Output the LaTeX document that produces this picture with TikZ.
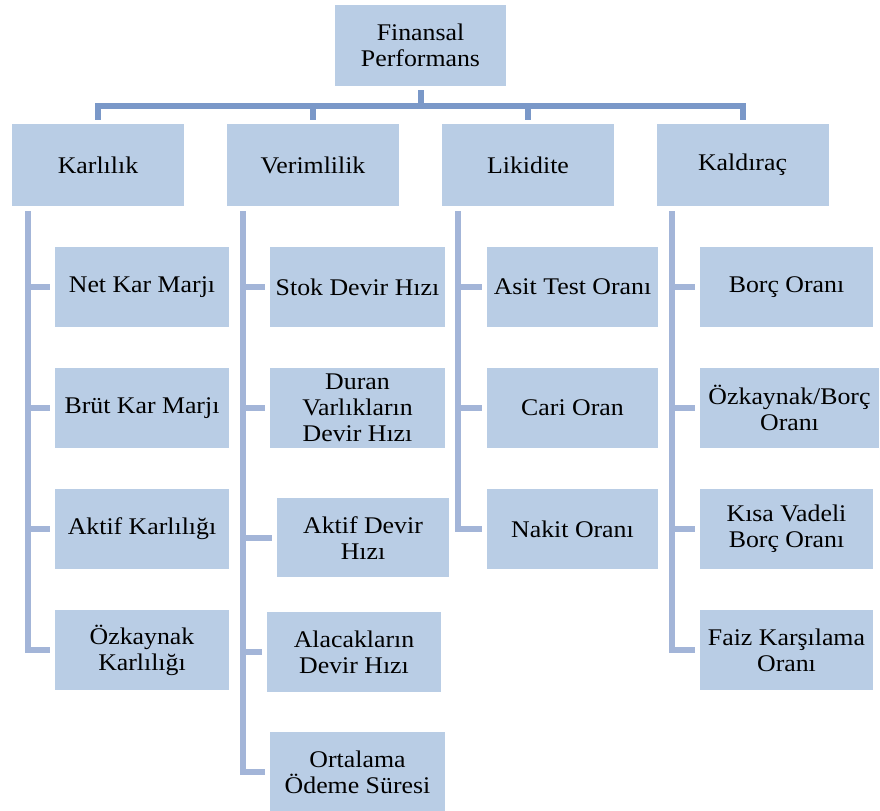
\documentclass[tikz,border=0pt]{standalone}
\usepackage{fontspec}
\setmainfont{Liberation Serif}[FakeStretch=1.08]
\usepackage{tikz}

\definecolor{boxblue}{RGB}{185,205,229}
\definecolor{topblue}{RGB}{122,152,200}
\definecolor{sideblue}{RGB}{163,181,216}

\begin{document}
\begin{tikzpicture}[x=1bp, y=1bp,
	box/.style={fill=boxblue, minimum width=172bp, minimum height=80bp, inner sep=2bp, align=center, font=\fontsize{24}{26}\selectfont},
	topline/.style={line width=6bp, topblue},
	sideline/.style={line width=6bp, sideblue}]
				\useasboundingbox (0,0) rectangle (880,811);
				
				\node[box, minimum width=171bp, minimum height=81bp] (fin) at (420.5,765.5) {Finansal\\Performans};
				
				\node[box, minimum height=82bp] (kar) at (98,646) {Karlılık};
				\node[box, minimum height=82bp] (ver) at (313,646) {Verimlilik};
				\node[box, minimum height=82bp] (lik) at (528,646) {Likidite};
				\node[box, minimum height=82bp] (kal) at (742.5,646) {Kaldıraç};
				
				\node[box, minimum width=174bp] (nkm) at (142,524) {Net Kar Marjı};
				\node[box, minimum width=174bp] (bkm) at (142,403) {Brüt Kar Marjı};
				\node[box, minimum width=174bp] (akk) at (142,282) {Aktif Karlılığı};
				\node[box, minimum width=174bp] (ozk) at (142,161) {Özkaynak\\Karlılığı};
				
				\node[box, minimum width=175bp] (sdh) at (357.5,524) {Stok Devir Hızı};
				\node[box, minimum width=175bp] (dvd) at (357.5,403) {Duran\\Varlıkların\\Devir Hızı};
				\node[box, minimum height=79bp] (adh) at (363,273) {Aktif Devir\\Hızı};
				\node[box, minimum width=174bp] (adv) at (354,159) {Alacakların\\Devir Hızı};
				\node[box, minimum width=175bp] (ods) at (357.5,39) {Ortalama\\Ödeme Süresi};
				
				\node[box, minimum width=171bp] (ato) at (572.5,524) {Asit Test Oranı};
				\node[box, minimum width=171bp] (cor) at (572.5,403) {Cari Oran};
				\node[box, minimum width=171bp] (nor) at (572.5,282) {Nakit Oranı};
				
				\node[box, minimum width=173bp] (bor) at (786.5,524) {Borç Oranı};
				\node[box, minimum width=179bp] (obo) at (789.5,403) {Özkaynak/Borç\\Oranı};
				\node[box, minimum width=173bp] (kvb) at (786.5,282) {Kısa Vadeli\\Borç Oranı};
				\node[box, minimum width=173bp] (fko) at (786.5,161) {Faiz Karşılama\\Oranı};
				
				\coordinate (hub) at (420.5,705);
				\draw[topline] ([yshift=-4bp]fin.south) -- (hub);
				\foreach \b in {kar,ver,lik,kal}
				\draw[topline] (hub) -| ([yshift=4bp]\b.north);
				
				\foreach \p/\c in {kar/nkm,kar/bkm,kar/akk,kar/ozk,ver/sdh,ver/dvd,ver/adh,ver/adv,ver/ods,lik/ato,lik/cor,lik/nor,kal/bor,kal/obo,kal/kvb,kal/fko}
				\draw[sideline] ([xshift=16bp,yshift=-5bp]\p.south west) |- ([xshift=-5bp]\c.west);
			\end{tikzpicture}
\end{document}
